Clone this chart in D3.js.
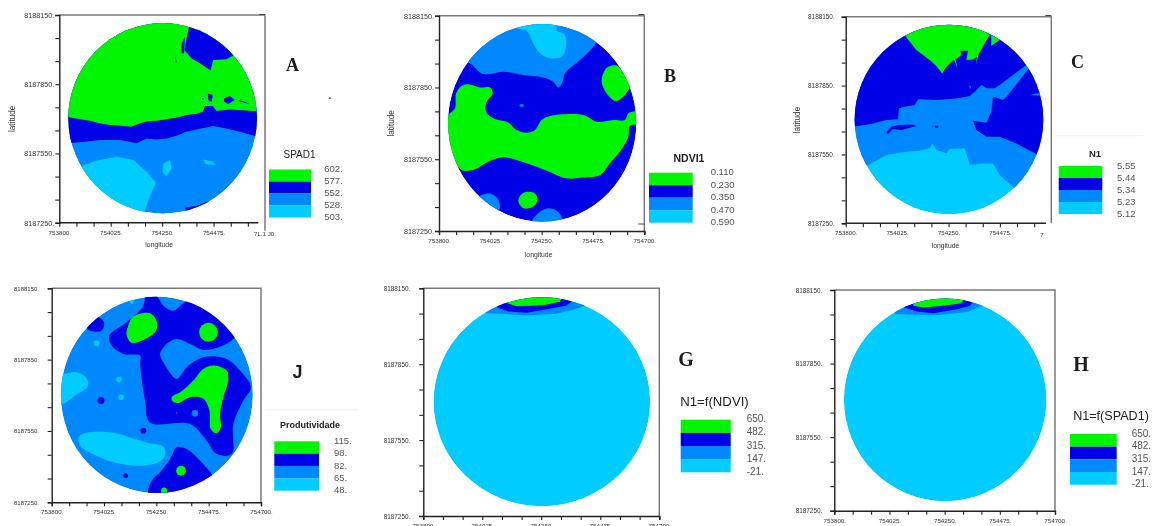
<!DOCTYPE html>
<html>
<head>
<meta charset="utf-8">
<script src="https://cdn.jsdelivr.net/npm/d3@7"></script>
<style>
  html, body { margin: 0; padding: 0; background: #fff; overflow: hidden; }
  svg { display: block; }
</style>
</head>
<body>
<svg id="chart" width="1153" height="526"></svg>
<script>
// field limits, all zones below are metres east / north of the SW corner
var lon0 = 753800, lon1 = 754700, lat0 = 8187250, lat1 = 8188150;
var pivot = [452, 452], pivotRadius = 413;

var lonTicks = d3.range(lon0, lon1 + 1, 75);
var latTicks = d3.range(lat0, lat1 + 1, 100);
var lonLabels = ['753800.', '754025.', '754250.', '754475.', '754700.'];
var latLabels = ['8187250.', '8187550.', '8187850.', '8188150.'];

var green = '#00f500', dark = '#0000e6', mid = '#0088ff', cyan = '#00ccff';
var legendColors = [green, dark, mid, cyan];

var spadLabels = ['602.', '577.', '552.', '528.', '503.'];
var ndviLabels = ['0.110', '0.230', '0.350', '0.470', '0.590'];
var n1Labels = ['5.55', '5.44', '5.34', '5.23', '5.12'];
var prodLabels = ['115.', '98.', '82.', '65.', '48.'];
var fnLabels = ['650.', '482.', '315.', '147.', '-21.'];

// A - SPAD1
var aLow = [[90,243],[164,269],[251,286],[324,272],[382,221],[423,173],[408,142],[390,98],[371,40],[178,26],[32,156],[54,243]];
var aLowIsle1 = [[455,257],[484,272],[492,235],[469,199],[451,221]];
var aLowIsle2 = [[630,274],[673,264],[681,250],[638,254]];
var aSouth = [[550,66],[601,72],[652,94],[680,60],[560,20]];
var aBand = [[32,344],[100,350],[178,358],[265,358],[300,352],[339,344],[382,365],[425,360],[469,365],[515,378],[557,394],[620,408],[673,419],[730,408],[790,394],[893,365],[893,900],[32,900]];
var aHigh = [[32,459],[80,450],[134,442],[180,430],[222,423],[270,420],[316,416],[350,430],[382,438],[425,442],[469,448],[515,456],[557,467],[600,472],[627,481],[638,506],[671,506],[689,484],[740,490],[790,488],[893,481],[893,900],[32,900]];
var aNorth = [[567,847],[547,748],[579,712],[615,691],[647,669],[662,659],[673,705],[732,708],[764,727],[800,760],[640,880]];
var aSpecks = [
  [[535,777],[550,806],[546,734],[535,734]],
  [[506,727],[513,698],[509,691]],
  [[650,560],[671,553],[667,524],[652,531]],
  [[721,539],[746,549],[768,532],[739,514],[721,524]],
  [[784,532],[813,524],[834,514],[791,524]],
  [[624,540],[632,540],[629,530]]
];
var strayPoint = [1184, 540];

// B - NDVI1
var bNorth = [[100,720],[136,701],[194,656],[282,666],[370,652],[457,642],[501,624],[523,600],[542,624],[552,659],[618,715],[662,756],[691,791],[700,900],[120,900]];
var bCap = [[340,850],[384,837],[413,784],[443,742],[487,722],[538,729],[557,770],[552,819],[516,840],[516,880],[340,880]];
var bBody = [[41,485],[70,513],[75,575],[99,606],[129,613],[180,600],[224,600],[235,575],[209,540],[206,499],[238,471],[304,453],[340,422],[384,411],[421,422],[450,464],[487,481],[633,485],[691,457],[764,464],[815,464],[830,492],[866,499],[881,450],[837,439],[830,394],[794,332],[749,283],[706,234],[618,223],[560,220],[472,252],[384,283],[282,308],[216,290],[150,255],[99,255],[70,297],[41,380],[19,436]];
var bEast = [[742,687],[782,691],[815,652],[840,610],[779,543],[735,575],[713,624],[723,666]];
var bSouth = [[384,164],[421,157],[432,130],[413,102],[370,95],[348,123],[358,150]];
var bSouthWest = [[187,150],[231,155],[260,130],[264,88],[200,60],[150,120]];
var bSouthEdge = [[406,39],[435,74],[479,95],[516,85],[542,49],[540,20],[406,20]];
var bSpeck = [[352,525],[362,532],[372,525],[362,518]];

// C - N1
var cMid = [[98,254],[178,298],[265,312],[324,316],[368,327],[379,348],[397,319],[441,305],[455,324],[521,327],[543,254],[601,261],[645,261],[674,210],[740,152],[800,150],[950,300],[900,900],[0,900],[0,230]];
var cDark = [[32,420],[120,435],[178,450],[229,453],[233,501],[258,508],[302,515],[317,540],[397,537],[484,544],[543,555],[565,573],[594,602],[616,588],[652,588],[674,602],[791,690],[802,675],[710,559],[689,537],[645,552],[637,486],[616,438],[557,447],[572,406],[616,377],[674,377],[747,348],[842,298],[920,298],[920,900],[32,900]];
var cStreak = [[805,559],[856,569],[861,556]];
var cSpeck1 = [[178,398],[200,421],[229,428],[295,430],[309,424],[244,406],[207,411],[185,388]];
var cSpeck2 = [[390,425],[405,425],[405,415],[392,415]];
var cSpeck3 = [[540,600],[550,595],[545,585]];
var cHigh = [[261,816],[309,755],[368,711],[397,685],[422,653],[441,682],[474,714],[489,675],[481,714],[506,733],[502,752],[535,752],[528,711],[557,714],[575,726],[569,689],[583,740],[630,820],[630,900],[261,900]];
var cHigh2 = [[637,816],[637,772],[677,801],[690,830],[640,840]];

// J - Produtividade
var jDark = [[401,880],[401,865],[451,865],[480,827],[523,806],[573,841],[638,862],[810,764],[788,694],[717,652],[652,641],[595,666],[537,687],[494,666],[466,624],[480,589],[537,519],[580,568],[652,610],[752,603],[810,554],[856,484],[824,428],[781,329],[774,203],[709,203],[666,259],[595,329],[423,336],[401,428],[380,582],[380,617],[308,624],[258,659],[248,701],[322,757],[394,827]];
var jDarkWest = [[153,729],[180,790],[193,785],[225,757],[215,722],[179,718]];
var jDarkSouth = [[416,35],[430,91],[466,126],[509,182],[537,231],[580,224],[638,175],[688,119],[720,60],[500,10]];
var jHighNorth = [[327,736],[351,781],[423,795],[454,753],[444,715],[380,677],[344,670],[322,705]];
var jHighEast = [[516,442],[559,467],[609,512],[652,561],[695,575],[752,554],[759,512],[738,442],[724,372],[727,315],[709,290],[684,308],[678,386],[652,435],[595,442],[545,418],[520,425]];
var jLowWest = [[50,540],[107,547],[153,519],[153,484],[100,449],[50,414],[20,414],[20,540]];
var jLowSouth = [[115,273],[150,292],[265,292],[337,273],[408,252],[480,234],[487,196],[451,165],[380,154],[279,165],[193,196],[129,231]];
// round spots: east, north, radius
var jDarkSpots = [[212,428,15],[394,301,13],[318,112,10]];
var jHighSpots = [[674,715,40],[556,133,21],[483,49,13]];
var jLowSpots = [[193,669,12],[289,516,12],[298,442,12],[344,844,9]];
var jMidSpots = [[616,374,14],[537,376,3]];

// G - N1=f(NDVI)
var gMid = [[235,801],[305,799],[394,792],[508,799],[572,815],[620,832],[620,900],[235,900]];
var gDark = [[280,825],[324,808],[394,803],[483,819],[547,832],[566,849],[566,900],[280,900]];
var gHigh = [[320,841],[356,829],[458,833],[521,847],[531,865],[531,900],[320,900]];

// H - N1=f(SPAD1)
var hMid = [[247,802],[322,799],[417,798],[540,809],[614,840],[614,900],[247,900]];
var hDark = [[284,829],[336,812],[404,805],[499,822],[553,836],[567,854],[567,900],[284,900]];
var hHigh = [[322,836],[363,829],[445,836],[519,846],[529,863],[529,900],[322,900]];

var panels = [
  { id: 'a', frame: [59.3, 265, 15, 222.7], base: mid, curve: d3.curveLinear, axisTitles: [12.7, 245.7],
    yFont: 7.2, yPad: 1, corners: [14.5],
    zones: [[cyan, aLow], [cyan, aLowIsle1], [cyan, aLowIsle2], [dark, aSouth], [dark, aBand], [green, aHigh], [dark, aNorth]]
      .concat(aSpecks.map(function(s) { return [dark, s]; })),
    cutAxis: 258.3, lastLabel: ['7L.1 J0.', 265], sideDrop: 8,
    mark: ['A', 292.5, 65, 18, 'Liberation Serif'], markDot: strayPoint,
    legend: { title: 'SPAD1', tx: 299.5, ty: 155, ts: 10, x: [269, 311], y: [169.5, 217.5], lx: 324.3, ls: 9.5, labels: spadLabels } },
  { id: 'b', frame: [439, 644.3, 15.7, 231], base: dark, curve: d3.curveCatmullRomClosed, axisTitles: [391.7, 255],
    yFont: 7.2, yPad: 1, corners: [14.5, 224],
    zones: [[mid, bNorth], [cyan, bCap], [green, bBody], [green, bEast], [green, bSouth], [mid, bSouthWest], [mid, bSouthEdge], [mid, bSpeck]],
    mark: ['B', 670, 75.7, 18, 'Liberation Serif'],
    legend: { title: 'NDVI1', tx: 689, ty: 159, ts: 10.5, weight: 'bold', x: [649, 692.7], y: [172.7, 222.7], lx: 710.7, ls: 9.5, labels: ndviLabels } },
  { id: 'c', frame: [845.7, 1051.3, 16.7, 223.3], base: cyan, curve: d3.curveLinear, axisTitles: [798, 246.7],
    yFont: 6.4, yPad: 7, corners: [15.5],
    zones: [[mid, cMid], [dark, cDark], [mid, cStreak], [dark, cSpeck1], [dark, cSpeck2], [mid, cSpeck3], [green, cHigh], [green, cHigh2]],
    cutAxis: 1046, lastLabel: ['7', 1042], sideDrop: 0,
    mark: ['C', 1077.5, 61.7, 18, 'Liberation Serif'], rule: [1056, 1143, 135.7],
    legend: { title: 'N1', tx: 1095, ty: 154, ts: 9.5, weight: 'bold', x: [1058.7, 1102.3], y: [166, 214], lx: 1117, ls: 9.5, labels: n1Labels } },
  { id: 'j', frame: [51.7, 261, 288.3, 502.3], base: mid, curve: d3.curveCatmullRomClosed,
    yFont: 6, yPad: 8.7,
    zones: [[dark, jDark], [dark, jDarkWest], [dark, jDarkSouth], [green, jHighNorth], [green, jHighEast], [cyan, jLowWest], [cyan, jLowSouth]],
    spots: [[dark, jDarkSpots], [green, jHighSpots], [cyan, jLowSpots], [mid, jMidSpots]],
    mark: ['J', 297.5, 372, 18, 'Liberation Sans'], rule: [265, 358, 409.7],
    legend: { title: 'Produtividade', tx: 310, ty: 425.7, ts: 9, weight: 'bold', x: [274.3, 319], y: [441.3, 490.7], lx: 334, ls: 9.5, labels: prodLabels } },
  { id: 'g', frame: [423.3, 659.3, 288.3, 516], base: cyan, curve: d3.curveLinear,
    yFont: 6.4, yPad: 9,
    zones: [[mid, gMid], [dark, gDark], [green, gHigh]],
    mark: ['G', 686, 359, 20, 'Liberation Serif'],
    legend: { title: 'N1=f(NDVI)', tx: 714.5, ty: 402.7, ts: 13.2, x: [680.7, 730.7], y: [419.7, 472.3], lx: 746.7, ls: 10, labels: fnLabels } },
  { id: 'h', frame: [834.3, 1055, 290, 510.7], base: cyan, curve: d3.curveLinear,
    yFont: 6.4, yPad: 8,
    zones: [[mid, hMid], [dark, hDark], [green, hHigh]],
    mark: ['H', 1081, 364, 20, 'Liberation Serif'],
    legend: { title: 'N1=f(SPAD1)', tx: 1111, ty: 416.7, ts: 12.6, x: [1070, 1116.7], y: [434, 484.7], lx: 1131.7, ls: 10, labels: fnLabels } }
];

var svg = d3.select('#chart');
svg.append('defs').append('filter').attr('id', 'soft')
  .attr('x', 0).attr('y', 0)
  .attr('filterUnits', 'userSpaceOnUse')
  .attr('width', 1153).attr('height', 526)
  .append('feGaussianBlur').attr('stdDeviation', 0.45);

var root = svg.append('g').attr('filter', 'url(#soft)');
root.append('rect').attr('width', 1153).attr('height', 526).attr('fill', '#fff');

panels.forEach(function(p) {
  var g = root.append('g').attr('class', 'panel panel-' + p.id);
  var x = d3.scaleLinear().domain([lon0, lon1]).range([p.frame[0], p.frame[1]]);
  var y = d3.scaleLinear().domain([lat0, lat1]).range([p.frame[3], p.frame[2]]);

  var clipId = 'disk-' + p.id;
  var cx = x(lon0 + pivot[0]), cy = y(lat0 + pivot[1]);
  var rx = x(lon0 + pivotRadius) - x(lon0), ry = y(lat0) - y(lat0 + pivotRadius);

  svg.select('defs').append('clipPath').attr('id', clipId)
    .append('ellipse').attr('cx', cx).attr('cy', cy).attr('rx', rx).attr('ry', ry);

  var field = g.append('g').attr('clip-path', 'url(#' + clipId + ')');
  field.append('ellipse').attr('cx', cx).attr('cy', cy).attr('rx', rx).attr('ry', ry).attr('fill', p.base);

  var outline = d3.line()
    .x(function(d) { return x(lon0 + d[0]); })
    .y(function(d) { return y(lat0 + d[1]); })
    .curve(p.curve);

  field.selectAll('path.zone')
    .data(p.zones)
    .enter()
    .append('path')
    .classed('zone', true)
    .attr('d', function(d) { return outline(d[1]) + 'Z'; })
    .attr('fill', function(d) { return d[0]; });

  (p.spots || []).forEach(function(s) {
    field.selectAll(null)
      .data(s[1])
      .enter()
      .append('ellipse')
      .attr('cx', function(d) { return x(lon0 + d[0]); })
      .attr('cy', function(d) { return y(lat0 + d[1]); })
      .attr('rx', function(d) { return x(lon0 + d[2]) - x(lon0); })
      .attr('ry', function(d) { return y(lat0) - y(lat0 + d[2]); })
      .attr('fill', s[0]);
  });

  // top and right edges of the frame are lighter than the axes
  g.append('path')
    .attr('d', 'M' + x(lon0) + ',' + y(lat1) + 'H' + x(lon1) + 'V' + (y(lat0) + (p.sideDrop || 0)))
    .attr('fill', 'none').attr('stroke', '#7a7a7a').attr('stroke-width', 1.5);
  (p.corners || []).forEach(function(cy) {
    g.append('line')
      .attr('x1', x(lon1) - 6).attr('x2', x(lon1))
      .attr('y1', cy).attr('y2', cy)
      .attr('stroke', '#444').attr('stroke-width', 1);
  });

  // A and C lost the end of their x axis in the original, so stop the ticks there
  var shownLon = lonTicks.filter(function(d) { return !p.cutAxis || x(d) < p.cutAxis; });
  var xAxis = d3.axisBottom(x)
    .tickValues(shownLon)
    .tickSize(4)
    .tickPadding(3.5)
    .tickFormat(function(d, i) { return i % 3 === 0 ? lonLabels[i / 3] : ''; });
  var yAxis = d3.axisLeft(y)
    .tickValues(latTicks)
    .tickSize(4)
    .tickPadding(p.yPad)
    .tickFormat(function(d, i) { return i % 3 === 0 ? latLabels[i / 3] : ''; });

  var axes = g.append('g');
  var xG = axes.append('g').attr('transform', 'translate(0,' + y(lat0) + ')').call(xAxis);
  var yG = axes.append('g').attr('transform', 'translate(' + x(lon0) + ',0)').call(yAxis);
  axes.selectAll('.domain').attr('stroke', '#222').attr('stroke-width', 1.4);
  axes.selectAll('.tick line').attr('stroke', '#222').attr('stroke-width', 1.1);
  xG.selectAll('text').attr('font-family', 'Liberation Sans').attr('font-size', 6.2).attr('fill', '#333');
  yG.selectAll('text').attr('font-family', 'Liberation Sans').attr('font-size', p.yFont).attr('fill', '#333');

  if (p.cutAxis) {
    xG.select('.domain').attr('d', 'M' + x(lon0) + ',0H' + p.cutAxis);
    g.append('text')
      .attr('x', p.lastLabel[1]).attr('y', y(lat0) + 13.5)
      .attr('text-anchor', 'middle')
      .attr('font-family', 'Liberation Sans').attr('font-size', 6.2).attr('fill', '#333')
      .text(p.lastLabel[0]);
  }

  if (p.axisTitles) {
    g.append('text')
      .attr('x', (x(lon0) + x(lon1)) / 2 - 3).attr('y', p.axisTitles[1])
      .attr('text-anchor', 'middle').attr('dominant-baseline', 'middle')
      .attr('font-family', 'Liberation Sans').attr('font-size', 6.8).attr('fill', '#333')
      .text('longitude');
    g.append('text')
      .attr('transform', 'translate(' + p.axisTitles[0] + ',' + (y(lat0) + y(lat1)) / 2 + ') rotate(-90)')
      .attr('text-anchor', 'middle').attr('dominant-baseline', 'middle')
      .attr('font-family', 'Liberation Sans').attr('font-size', 8.2).attr('fill', '#333')
      .text('latitude');
  }

  if (p.markDot) {
    g.append('circle')
      .attr('cx', x(lon0 + p.markDot[0])).attr('cy', y(lat0 + p.markDot[1]))
      .attr('r', 0.9).attr('fill', '#222');
  }

  if (p.rule) {
    g.append('line')
      .attr('x1', p.rule[0]).attr('x2', p.rule[1])
      .attr('y1', p.rule[2]).attr('y2', p.rule[2])
      .attr('stroke', '#f0f0f0').attr('stroke-width', 1);
  }

  g.append('text')
    .attr('x', p.mark[1]).attr('y', p.mark[2])
    .attr('text-anchor', 'middle').attr('dominant-baseline', 'central')
    .attr('font-family', p.mark[4]).attr('font-weight', 'bold').attr('font-size', p.mark[3])
    .attr('fill', '#1a1a1a')
    .text(p.mark[0]);

  var lg = p.legend;
  var ly = d3.scalePoint().domain(lg.labels).range(lg.y);
  g.selectAll('rect.band')
    .data(legendColors)
    .enter()
    .append('rect')
    .classed('band', true)
    .attr('x', lg.x[0])
    .attr('y', function(d, i) { return ly(lg.labels[i]); })
    .attr('width', lg.x[1] - lg.x[0])
    .attr('height', ly.step())
    .attr('fill', function(d) { return d; });
  g.selectAll('text.band-label')
    .data(lg.labels)
    .enter()
    .append('text')
    .classed('band-label', true)
    .attr('x', lg.lx)
    .attr('y', function(d) { return ly(d); })
    .attr('dominant-baseline', 'middle')
    .attr('font-family', 'Liberation Sans').attr('font-size', lg.ls).attr('fill', '#555')
    .text(function(d) { return d; });
  g.append('text')
    .attr('x', lg.tx).attr('y', lg.ty)
    .attr('text-anchor', 'middle').attr('dominant-baseline', 'middle')
    .attr('font-family', 'Liberation Sans').attr('font-size', lg.ts)
    .attr('font-weight', lg.weight || 'normal').attr('fill', '#222')
    .text(lg.title);
});
</script>
</body>
</html>
